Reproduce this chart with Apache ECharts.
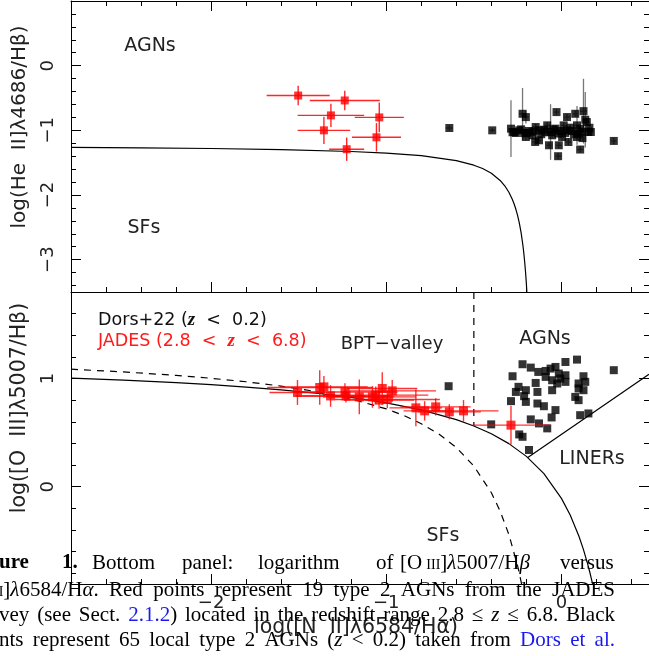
<!DOCTYPE html>
<html><head><meta charset="utf-8">
<script src="https://cdn.jsdelivr.net/npm/echarts@6/dist/echarts.min.js"></script>
<style>html,body{margin:0;padding:0;background:#fff}#c{width:649px;height:656px}</style>
</head><body><div id="c"></div>
<script>
// ---------- axis ticks ----------
const xMajor = [-2, -1, 0];
const xMinor = [-2.6, -2.4, -2.2, -1.8, -1.6, -1.4, -1.2, -0.8, -0.6, -0.4, -0.2, 0.2, 0.4];
const topYMajor = [-3, -2, -1, 0];
const topYMinor = [0.8, 0.6, 0.4, 0.2, -0.2, -0.4, -0.6, -0.8, -1.2, -1.4, -1.6, -1.8, -2.2, -2.4, -2.6, -2.8, -3.2, -3.4];
const botYMajor = [0, 1];
const botYMinor = [1.6, 1.4, 1.2, 0.8, 0.6, 0.4, 0.2, -0.2, -0.4, -0.6, -0.8];

// ---------- top panel: He II diagnostic ----------
const sbX = [-2.8, -2.4, -2.0, -1.6, -1.2, -1.0, -0.8, -0.6, -0.5, -0.45, -0.4, -0.35, -0.32, -0.3, -0.28, -0.27, -0.26, -0.25, -0.24, -0.23, -0.22, -0.215, -0.21, -0.205, -0.2, -0.1975];
const sbY = [-1.262, -1.270, -1.281, -1.297, -1.327, -1.352, -1.392, -1.468, -1.539, -1.591, -1.665, -1.775, -1.872, -1.957, -2.069, -2.139, -2.221, -2.319, -2.438, -2.587, -2.777, -2.893, -3.028, -3.186, -3.375, -3.5];

const jadesTopX = [-1.503, -1.237, -1.316, -1.040, -1.356, -1.056, -1.226];
const jadesTopY = [-0.462, -0.538, -0.769, -0.800, -1.000, -1.108, -1.292];
const jadesTopXerr = [0.18, 0.20, 0.19, 0.14, 0.15, 0.14, 0.10];
const jadesTopYerr = [0.15, 0.15, 0.18, 0.23, 0.21, 0.22, 0.18];

const dorsTopX = [-0.640, -0.395, 0.299, -0.222, -0.203, -0.028, 0.079, 0.126, 0.136, 0.032,
  -0.288, -0.269, -0.241, -0.213, -0.185, -0.147, -0.128, -0.100, -0.081, -0.062, -0.034, -0.006, 0.013, 0.032, 0.051, 0.089, 0.107, 0.145, 0.154, 0.168, 0.098,
  -0.203, -0.128, -0.071, -0.015, -0.019, 0.107, 0.089, 0.004, -0.166, -0.053, -0.260,
  -0.279, -0.230, -0.195, -0.160, -0.115, -0.090, -0.045, -0.020, 0.022, 0.060, 0.072, 0.118, 0.160, -0.150, 0.040, 0.120];
const dorsTopY = [-0.964, -1.000, -1.164, -0.744, -0.795, -0.718, -0.744, -0.703, -0.836, -0.795,
  -0.974, -1.026, -1.000, -1.041, -1.010, -0.949, -1.000, -0.990, -0.923, -1.026, -0.974, -1.010, -0.923, -1.000, -0.959, -0.923, -0.974, -0.872, -1.026, -1.026, -1.051,
  -1.103, -1.154, -1.231, -1.231, -1.400, -1.297, -1.103, -1.103, -1.077, -1.077, -1.041,
  -1.030, -0.985, -1.040, -1.020, -1.060, -1.030, -0.985, -1.050, -1.040, -1.010, -1.060, -1.020, -0.960, -1.180, -1.180, -1.120];
const dorsTopXerr = [0.02, 0.015, 0.015, 0.02, 0.015, 0.015, 0.015, 0.02, 0.015, 0.015,
  0.015, 0.02, 0.015, 0.015, 0.015, 0.02, 0.015, 0.015, 0.015, 0.015, 0.015, 0.015, 0.015, 0.015, 0.015, 0.015, 0.015, 0.015, 0.015, 0.015, 0.015,
  0.015, 0.015, 0.015, 0.015, 0.015, 0.015, 0.015, 0.015, 0.015, 0.015, 0.015,
  0.015, 0.015, 0.015, 0.015, 0.015, 0.015, 0.015, 0.015, 0.015, 0.015, 0.015, 0.015, 0.015, 0.015, 0.015, 0.015];
const dorsTopYerr = [0.04, 0.03, 0.05, 0.40, 0.10, 0.05, 0.05, 0.50, 0.43, 0.05,
  0.44, 0.06, 0.05, 0.05, 0.05, 0.05, 0.05, 0.05, 0.05, 0.43, 0.05, 0.05, 0.05, 0.05, 0.05, 0.30, 0.05, 0.05, 0.05, 0.05, 0.05,
  0.05, 0.05, 0.05, 0.05, 0.05, 0.05, 0.05, 0.05, 0.05, 0.05, 0.05,
  0.05, 0.05, 0.05, 0.05, 0.05, 0.05, 0.05, 0.05, 0.05, 0.05, 0.05, 0.05, 0.05, 0.05, 0.05, 0.05];

// ---------- bottom panel: BPT ----------
const kewX = [-2.8, -2.5, -2.2, -2.0, -1.8, -1.6, -1.4, -1.2, -1.0, -0.8, -0.6, -0.5, -0.4, -0.3, -0.2, -0.1, 0.0, 0.05, 0.1, 0.125, 0.15, 0.165, 0.178];
const kewY = [1.003, 0.985, 0.962, 0.943, 0.921, 0.895, 0.864, 0.825, 0.775, 0.710, 0.620, 0.561, 0.489, 0.398, 0.280, 0.120, -0.108, -0.262, -0.459, -0.578, -0.716, -0.810, -0.899];
const kauX = [-2.8, -2.5, -2.2, -2.0, -1.8, -1.6, -1.4, -1.2, -1.0, -0.9, -0.8, -0.7, -0.6, -0.5, -0.4, -0.35, -0.3, -0.25, -0.227];
const kauY = [1.086, 1.061, 1.029, 1.002, 0.970, 0.930, 0.879, 0.812, 0.719, 0.658, 0.582, 0.487, 0.362, 0.191, -0.056, -0.225, -0.443, -0.733, -0.902];
const linerX = [-0.192, 0.5];
const linerY = [0.269, 1.04];
const valleyX = [-0.5, -0.5];
const valleyY = [1.8, 0.561];

const jadesBotX = [-1.507, -1.380, -1.356, -1.318, -1.236, -1.230, -1.154, -1.079, -1.060, -1.023, -0.994, -0.966, -1.041, -0.831, -0.781, -0.718, -0.640, -0.559, -0.288];
const jadesBotY = [0.871, 0.917, 0.923, 0.839, 0.876, 0.839, 0.830, 0.830, 0.846, 0.908, 0.806, 0.886, 0.800, 0.729, 0.701, 0.738, 0.692, 0.701, 0.569];
const jadesBotXerr = [0.16, 0.30, 0.25, 0.20, 0.30, 0.25, 0.20, 0.25, 0.30, 0.20, 0.30, 0.25, 0.20, 0.15, 0.12, 0.20, 0.18, 0.20, 0.22];
const jadesBotYerr = [0.115, 0.16, 0.10, 0.10, 0.08, 0.06, 0.16, 0.10, 0.08, 0.15, 0.08, 0.10, 0.08, 0.17, 0.09, 0.08, 0.07, 0.10, 0.18];

const dorsBotX = [-0.222, -0.175, -0.132, -0.090, -0.062, -0.034, 0.023, 0.089, -0.015, 0.023, -0.090, -0.053, -0.006, -0.279, -0.147, -0.245, -0.203, -0.260, -0.137, -0.053, -0.024, 0.023, 0.098, 0.126, 0.136, 0.098, 0.126, 0.079, 0.098, -0.213, -0.203, -0.288, -0.137, -0.100, -0.034, -0.056, 0.107, 0.154, -0.175, -0.128, -0.081, -0.401, -0.241, -0.222, -0.185, 0.299, -0.644];
const dorsBotY = [1.132, 1.101, 1.061, 1.070, 1.092, 1.107, 1.153, 1.175, 1.046, 1.030, 1.015, 0.984, 1.000, 1.021, 0.959, 0.923, 0.892, 0.876, 0.876, 0.892, 0.954, 0.969, 0.954, 1.021, 0.969, 0.908, 0.892, 0.830, 0.800, 0.837, 0.784, 0.791, 0.769, 0.744, 0.708, 0.640, 0.661, 0.677, 0.622, 0.585, 0.539, 0.576, 0.483, 0.461, 0.339, 1.077, 0.929];

// ---------- helpers ----------
const zip = (a, b) => a.map((v, i) => [v, b[i]]);
const zip4 = (a, b, c, d) => a.map((v, i) => [v, b[i], c[i], d[i]]);
const FONT = 'DejaVu Sans';
const TXT = '#222';
const fmt = v => String(v).replace('-', '\u2212');

function xAx(grid, pos, ticks, len, line, labels) {
  return {
    type: 'value', gridIndex: grid, position: pos, min: -2.8, max: 0.5,
    axisLine: { show: line, onZero: false, lineStyle: { color: '#000', width: 1 } },
    axisTick: { show: true, inside: true, length: len, customValues: ticks, lineStyle: { color: '#000', width: 1 } },
    axisLabel: labels ? { show: true, customValues: ticks, formatter: fmt, fontFamily: FONT, fontSize: 18, color: TXT, margin: 10 } : { show: false },
    splitLine: { show: false }
  };
}
function yAx(grid, pos, min, max, ticks, len, line, labels) {
  return {
    type: 'value', gridIndex: grid, position: pos, min: min, max: max,
    axisLine: { show: line, onZero: false, lineStyle: { color: '#000', width: 1 } },
    axisTick: { show: true, inside: true, length: len, customValues: ticks, lineStyle: { color: '#000', width: 1 } },
    axisLabel: labels ? { show: true, customValues: ticks, formatter: fmt, rotate: 90, fontFamily: FONT, fontSize: 18, color: TXT, margin: 14 } : { show: false },
    splitLine: { show: false }
  };
}

function errRender(color, width) {
  return function (params, api) {
    const x = api.value(0), y = api.value(1), ex = api.value(2), ey = api.value(3);
    const ch = [];
    const st = { stroke: color, lineWidth: width };
    if (ex > 0) {
      const a = api.coord([x - ex, y]), b = api.coord([x + ex, y]);
      ch.push({ type: 'line', shape: { x1: a[0], y1: a[1], x2: b[0], y2: b[1] }, style: st });
    }
    if (ey > 0) {
      const a = api.coord([x, y - ey]), b = api.coord([x, y + ey]);
      ch.push({ type: 'line', shape: { x1: a[0], y1: a[1], x2: b[0], y2: b[1] }, style: st });
    }
    return { type: 'group', children: ch };
  };
}

const lineS = (xi, yi, xs, ys, dashed, w) => ({
  type: 'line', xAxisIndex: xi, yAxisIndex: yi, data: zip(xs, ys), showSymbol: false, symbol: 'none',
  lineStyle: { color: '#000', width: w || 1.2, type: dashed ? [7, 6] : 'solid' }, silent: true, z: 3
});

// ---------- caption fragment (justified lines) ----------
const CAP = 21;
const capStyles = {
  n: { font: CAP + 'px "Liberation Serif"', fill: '#000' },
  b: { font: CAP + 'px "Liberation Serif"', fill: '#1a1aee' },
  i: { font: 'italic ' + CAP + 'px "Liberation Serif"', fill: '#000' },
  s: { font: '14px "Liberation Serif"', fill: '#000' },
  B: { font: 'bold ' + CAP + 'px "Liberation Serif"', fill: '#000' }
};
const captionLines = [
  { y: 563, x0: -2, x1: 616, xs: [-1, 62, 92, 182, 258, 376, 400, 560],
    words: [[['ure', 'B']], [['1.', 'B']], [['Bottom', 'n']], [['panel:', 'n']], [['logarithm', 'n']], [['of', 'n']],
      [['[O\u2009', 'n'], ['III', 's'], [']', 'n'], ['\u03bb', 'i'], ['5007/H', 'n'], ['\u03b2', 'i']], [['versus', 'n']]] },
  { y: 590, x0: -6, x1: 615, words: [[['II', 's'], [']', 'n'], ['\u03bb', 'i'], ['6584/H', 'n'], ['\u03b1', 'i'], ['.', 'n']],
      [['Red', 'n']], [['points', 'n']], [['represent', 'n']], [['19', 'n']], [['type', 'n']], [['2', 'n']], [['AGNs', 'n']], [['from', 'n']], [['the', 'n']], [['JADES', 'n']]] },
  { y: 615, x0: -1, x1: 615, words: [[['vey', 'n']], [['(see', 'n']], [['Sect.', 'n']], [['2.1.2', 'b'], [')', 'n']], [['located', 'n']], [['in', 'n']], [['the', 'n']],
      [['redshift', 'n']], [['range', 'n']], [['2.8', 'n']], [['\u2264', 'n']], [['z', 'i']], [['\u2264', 'n']], [['6.8.', 'n']], [['Black', 'n']]] },
  { y: 640, x0: -1, x1: 615, words: [[['nts', 'n']], [['represent', 'n']], [['65', 'n']], [['local', 'n']], [['type', 'n']], [['2', 'n']], [['AGNs', 'n']],
      [['(', 'n'], ['z', 'i']], [['<', 'n']], [['0.2)', 'n']], [['taken', 'n']], [['from', 'n']], [['Dors', 'b']], [['et', 'b']], [['al.', 'b']]] }
];
const mctx = document.createElement('canvas').getContext('2d');
function tw(t, k) { mctx.font = capStyles[k].font; return mctx.measureText(t).width; }
const captionEls = [];
captionLines.forEach(L => {
  const widths = L.words.map(w => w.reduce((s, p) => s + tw(p[0], p[1]), 0));
  const total = widths.reduce((a, b) => a + b, 0);
  const gap = (L.x1 - L.x0 - total) / (L.words.length - 1);
  let x = L.x0;
  L.words.forEach((w, wi) => {
    let px = L.xs ? L.xs[wi] : x;
    w.forEach(p => {
      captionEls.push({ type: 'text', x: px, y: L.y + (p[1] === 's' ? 2 : 0), style: Object.assign({ text: p[0], verticalAlign: 'middle', align: 'left' }, capStyles[p[1]]) });
      px += tw(p[0], p[1]);
    });
    x += widths[wi] + gap;
  });
});

const lab = (x, y, t, size) => ({ type: 'text', x: x, y: y, style: { text: t, font: size + 'px "DejaVu Sans"', fill: TXT, align: 'center', verticalAlign: 'middle' } });

const option = {
  animation: false,
  backgroundColor: '#fff',
  grid: [
    { left: 71, top: 1, width: 584, height: 291 },
    { left: 71, top: 292, width: 584, height: 292 }
  ],
  xAxis: [
    xAx(0, 'bottom', xMajor, 10, true, false),
    xAx(0, 'bottom', xMinor, 5, false, false),
    xAx(0, 'top', xMajor, 10, true, false),
    xAx(0, 'top', xMinor, 5, false, false),
    xAx(1, 'bottom', xMajor, 10, true, true),
    xAx(1, 'bottom', xMinor, 5, false, false)
  ],
  yAxis: [
    yAx(0, 'left', -3.5, 1, topYMajor, 10, true, true),
    yAx(0, 'left', -3.5, 1, topYMinor, 5, false, false),
    yAx(0, 'right', -3.5, 1, topYMajor, 10, true, false),
    yAx(0, 'right', -3.5, 1, topYMinor, 5, false, false),
    yAx(1, 'left', -0.9, 1.8, botYMajor, 10, true, true),
    yAx(1, 'left', -0.9, 1.8, botYMinor, 5, false, false),
    yAx(1, 'right', -0.9, 1.8, botYMajor, 10, true, false),
    yAx(1, 'right', -0.9, 1.8, botYMinor, 5, false, false)
  ],
  series: [
    lineS(0, 0, sbX, sbY, false),
    { type: 'custom', xAxisIndex: 0, yAxisIndex: 0, renderItem: errRender('#777', 1.3), data: zip4(dorsTopX, dorsTopY, dorsTopXerr, dorsTopYerr), z: 4, silent: true },
    { type: 'scatter', xAxisIndex: 0, yAxisIndex: 0, symbol: 'rect', symbolSize: 8, itemStyle: { color: '#000' }, data: zip(dorsTopX, dorsTopY), z: 5, silent: true },
    { type: 'custom', xAxisIndex: 0, yAxisIndex: 0, renderItem: errRender('rgba(255,0,0,0.85)', 1.4), data: zip4(jadesTopX, jadesTopY, jadesTopXerr, jadesTopYerr), z: 6, silent: true },
    { type: 'scatter', xAxisIndex: 0, yAxisIndex: 0, symbol: 'rect', symbolSize: 8, itemStyle: { color: '#ff0000' }, data: zip(jadesTopX, jadesTopY), z: 7, silent: true },

    lineS(4, 4, kewX, kewY, false),
    lineS(4, 4, kauX, kauY, true),
    lineS(4, 4, linerX, linerY, false),
    lineS(4, 4, valleyX, valleyY, true),
    { type: 'scatter', xAxisIndex: 4, yAxisIndex: 4, symbol: 'rect', symbolSize: 8, itemStyle: { color: '#000' }, data: zip(dorsBotX, dorsBotY), z: 5, silent: true },
    { type: 'custom', xAxisIndex: 4, yAxisIndex: 4, renderItem: errRender('rgba(255,0,0,0.8)', 1.4), data: zip4(jadesBotX, jadesBotY, jadesBotXerr, jadesBotYerr), z: 6, silent: true },
    { type: 'scatter', xAxisIndex: 4, yAxisIndex: 4, symbol: 'rect', symbolSize: 9, itemStyle: { color: '#ff0000' }, data: zip(jadesBotX, jadesBotY), z: 7, silent: true }
  ],
  graphic: [
    { type: 'text', x: 20, y: 127, rotation: Math.PI / 2, style: { text: 'log(He  II]\u03bb4686/H\u03b2)', font: '20px "DejaVu Sans"', fill: TXT, align: 'center', verticalAlign: 'middle' } },
    { type: 'text', x: 20, y: 408, rotation: Math.PI / 2, style: { text: 'log([O  III]\u03bb5007/H\u03b2)', font: '20.5px "DejaVu Sans"', fill: TXT, align: 'center', verticalAlign: 'middle' } },
    { type: 'text', x: 356, y: 628, style: { text: 'log([N  II]\u03bb6584/H\u03b1)', font: '20.5px "DejaVu Sans"', fill: TXT, align: 'center', verticalAlign: 'middle' } },
    lab(150, 46, 'AGNs', 19),
    lab(144, 228, 'SFs', 19),
    lab(392, 344, 'BPT\u2212valley', 18),
    lab(545, 339, 'AGNs', 19),
    lab(592, 459, 'LINERs', 19),
    lab(443, 536, 'SFs', 19),
    { type: 'text', x: 98, y: 320, style: { text: '{n|Dors+22 (}{i|z}{n|  <  0.2)}', align: 'left', verticalAlign: 'middle',
        rich: { n: { font: '17.5px "DejaVu Sans"', fill: '#111' }, i: { font: 'italic bold 19px "Liberation Serif"', fill: '#111' } } } },
    { type: 'text', x: 98, y: 341, style: { text: '{n|JADES (2.8  <  }{i|z}{n|  <  6.8)}', align: 'left', verticalAlign: 'middle',
        rich: { n: { font: '17.5px "DejaVu Sans"', fill: '#ff1a1a' }, i: { font: 'italic bold 19px "Liberation Serif"', fill: '#ff1a1a' } } } },
    { type: 'group', z: 100, children: captionEls }
  ]
};
const chart = echarts.init(document.getElementById('c'), null, { renderer: 'canvas' });
chart.setOption(option);
</script></body></html>
